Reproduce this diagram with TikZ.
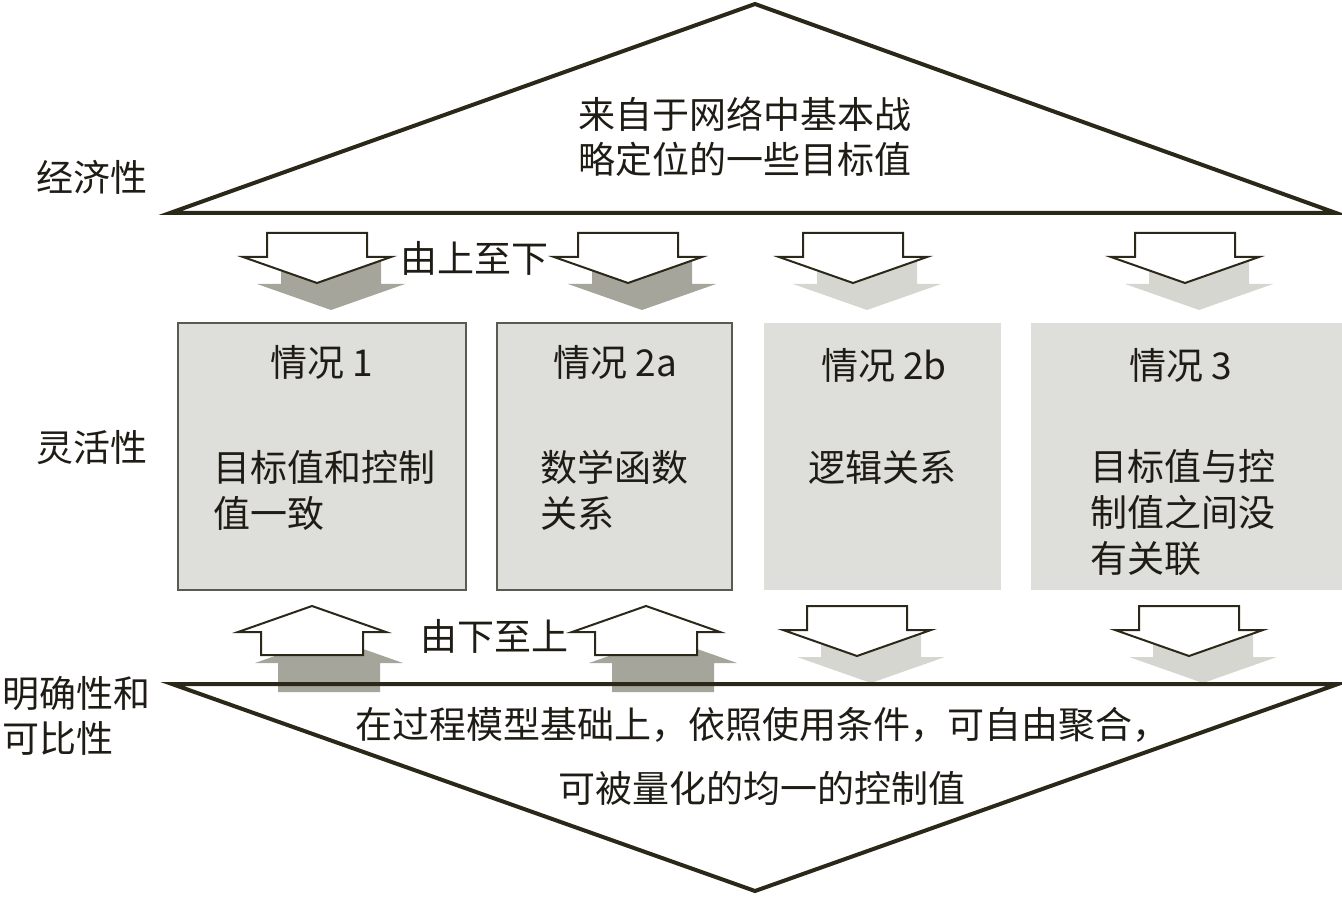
\documentclass[tikz,border=0pt]{standalone}
\usepackage{fontspec}
\setmainfont{Noto Sans CJK SC}
\usetikzlibrary{positioning}
\definecolor{lnclr}{HTML}{2B2819}
\definecolor{txtclr}{HTML}{1E1C14}
\definecolor{boxgray}{HTML}{DEDEDA}
\definecolor{boxedge}{HTML}{5A5A50}
\definecolor{shdark}{HTML}{A5A59B}
\definecolor{shlight}{HTML}{D6D6D0}

\begin{document}
\begin{tikzpicture}[
  x=0.5pt, y=-0.5pt,
  outline/.style={draw=lnclr, line width=2pt},
  casebox/.style={draw=boxedge, line width=1pt, fill=boxgray, inner sep=0pt,
                  minimum width=#1, minimum height=133.5pt},
  txt/.style={font=\fontsize{18.5}{23}\selectfont, text=txtclr, inner sep=0pt, align=left},
  blockarr/.style={draw=lnclr, fill=white, line width=1pt},
  pics/downarr/.style={code={
    \fill[#1, shift={(14,27)}] (-50,0) -- (50,0) -- (50,24) -- (74,24) -- (0,50)
         -- (-74,24) -- (-50,24) -- cycle;
    \draw[blockarr] (-50,0) -- (50,0) -- (50,24) -- (74,24) -- (0,50)
         -- (-74,24) -- (-50,24) -- cycle;
  }},
  pics/uparr/.style={code={
    \fill[#1, shift={(17,31)}] (0,0) -- (74,26) -- (51,26) -- (51,55) -- (-51,55)
         -- (-51,26) -- (-74,26) -- cycle;
    \draw[blockarr] (0,0) -- (74,26) -- (51,26) -- (51,49) -- (-51,49)
         -- (-51,26) -- (-74,26) -- cycle;
  }},
]
\useasboundingbox (0,0) rectangle (1342,898);

%% Linke Beschriftung
\node[txt] (econ) at (92,177) {经济性};
\node[txt] (flex) at (92,448) {灵活性};
\node[txt, anchor=west, font=\fontsize{18.5}{22.5}\selectfont] (clar) at (2,716) {明确性和\\可比性};

%% Vier Faelle
\node[casebox=144pt]              (c1) at (322,456.5)  {};
\node[casebox=117.5pt]            (c2) at (614.5,456.5) {};
\node[casebox=118.5pt, draw=none] (c3) at (882.5,456.5) {};
\node[casebox=155.5pt, draw=none] (c4) at (1186.5,456.5) {};

\node[txt] (t1) at (322,362)  {情况 1};
\node[txt] (t2) at (615,362)  {情况 2a};
\node[txt] (t3) at (884,365)  {情况 2b};
\node[txt] (t4) at (1181,365) {情况 3};

\node[txt, anchor=west] (b1) at (213,490)  {目标值和控制\\值一致};
\node[txt, anchor=west] (b2) at (540,490)  {数学函数\\关系};
\node[txt, anchor=west] (b3) at (808,467)  {逻辑关系};
\node[txt, anchor=west] (b4) at (1090,513) {目标值与控\\制值之间没\\有关联};

%% Pfeile oben und unten
\pic at (317,233)  {downarr=shdark};
\pic at (628,233)  {downarr=shdark};
\pic at (853,233)  {downarr=shlight};
\pic at (1185,233) {downarr=shlight};
\pic at (312,606)  {uparr=shdark};
\pic at (646,606)  {uparr=shdark};
\pic at (857,606)  {downarr=shlight};
\pic at (1189,606) {downarr=shlight};

\node[txt] (topdown)  at (474,258) {由上至下};
\node[txt] (bottomup) at (494,636) {由下至上};

%% Dreiecke
\draw[outline] (170,213) -- (755,4) -- (1336,213) -- cycle;
\draw[outline] (172,684) -- (1338,684) -- (755,891) -- cycle;

\node[txt, anchor=west, font=\fontsize{18.5}{22.5}\selectfont] (goal) at (578,137)
  {来自于网络中基本战\\略定位的一些目标值};
\node[txt, align=center, font=\fontsize{18.5}{32}\selectfont] (ctrl) at (762,756)
  {在过程模型基础上，依照使用条件，可自由聚合，\\可被量化的均一的控制值};

\end{tikzpicture}
\end{document}
